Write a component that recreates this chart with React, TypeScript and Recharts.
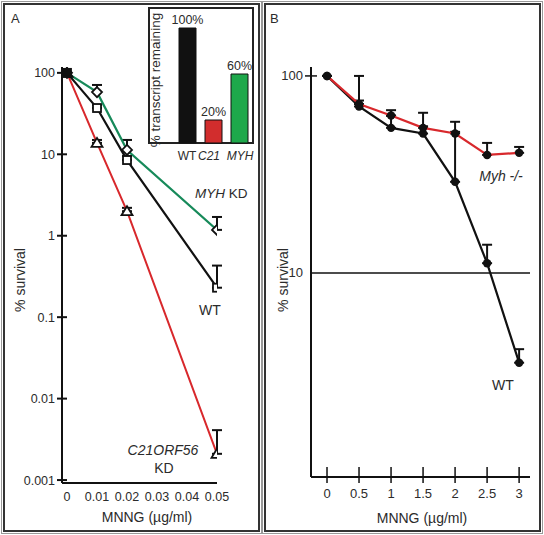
import React from 'react';
import { BarChart, Bar, Cell, LabelList, LineChart, Line, XAxis, YAxis, ErrorBar, ReferenceLine } from 'recharts';

const FONT = '"Liberation Sans", Arial, Helvetica, sans-serif';
const INK = '#2b2b2b';
const RED = '#d8282c';
const GREEN = '#178a5a';

// panel A: survival after knockdown
const doseA = [0, 0.01, 0.02, 0.05];
const wtA = [100, 37, 8.5, 0.23];
const wtTopA = [100, 40, 9.5, 0.43];
const myhA = [100, 58, 11.3, 1.18];
const myhTopA = [100, 71, 15, 1.7];
const c21A = [100, 13.8, 2.0, 0.0021];
const c21TopA = [100, 15, 2.2, 0.0041];
const yTicksA = [0.001, 0.01, 0.1, 1, 10, 100];
const xTicksA = [0, 0.01, 0.02, 0.03, 0.04, 0.05];

// inset: % transcript remaining
const knockdowns = ['WT', 'C21', 'MYH'];
const remaining = [100, 20, 60];
const barColors = ['#111111', '#d22d2d', '#1ea84b'];

// panel B: Myh -/- cells
const doseB = [0, 0.5, 1, 1.5, 2, 2.5, 3];
const wtB = [100, 70, 54.5, 51, 29, 11.2, 3.5];
const wtTopB = [100, 100, 62.7, 65, 58.5, 13.9, 4.1];
const myhB = [100, 72, 63, 54.5, 51, 39.7, 40.7];
const myhTopB = [100, 75, 67, 55.5, 52, 45.7, 43.6];
const yTicksB = [10, 100];
const xTicksB = [0, 0.5, 1, 1.5, 2, 2.5, 3];

const dataA = doseA.map((d, i) => ({
  dose: d,
  wt: wtA[i],
  wtErr: [0, wtTopA[i] - wtA[i]],
  myh: myhA[i],
  myhErr: [0, myhTopA[i] - myhA[i]],
  c21: c21A[i],
  c21Err: [0, c21TopA[i] - c21A[i]],
}));

const dataInset = knockdowns.map((k, i) => ({ name: k, value: remaining[i] }));

const dataB = doseB.map((d, i) => ({
  dose: d,
  wt: wtB[i],
  wtErr: [0, wtTopB[i] - wtB[i]],
  myh: myhB[i],
  myhErr: [0, myhTopB[i] - myhB[i]],
}));

const txt = { fontFamily: FONT, fill: INK } as const;

const SquareDot = (p: any) => {
  const { cx, cy, index } = p;
  if (cx == null || cy == null) return <g key={`sq${index}`} />;
  return (
    <rect key={`sq${index}`} x={cx - 4} y={cy - 4} width={8} height={8}
      fill={index === 0 ? '#111' : '#fff'} stroke="#111" strokeWidth={1.8} />
  );
};

const DiamondDot = (p: any) => {
  const { cx, cy, index } = p;
  if (cx == null || cy == null) return <g key={`di${index}`} />;
  return (
    <polygon key={`di${index}`} points={`${cx},${cy - 5} ${cx + 5},${cy} ${cx},${cy + 5} ${cx - 5},${cy}`}
      fill="#fff" stroke="#111" strokeWidth={1.8} />
  );
};

const TriangleDot = (p: any) => {
  const { cx, cy, index } = p;
  if (cx == null || cy == null) return <g key={`tr${index}`} />;
  return (
    <polygon key={`tr${index}`} points={`${cx},${cy - 5} ${cx + 5.5},${cy + 4} ${cx - 5.5},${cy + 4}`}
      fill="#fff" stroke="#111" strokeWidth={1.8} />
  );
};

const RoundDot = (p: any) => {
  const { cx, cy, index } = p;
  if (cx == null || cy == null) return <g key={`rd${index}`} />;
  return <circle key={`rd${index}`} cx={cx} cy={cy} r={4.2} fill="#111" />;
};

// panel A axis ticks (axis at x=62, y=483 in chart coords)
const YTickA = (p: any) => (
  <g>
    <line x1={57} x2={67} y1={p.y} y2={p.y} stroke="#111" strokeWidth={2} />
    <text x={55} y={p.y + 4.5} textAnchor="end" fontSize={12.5} {...txt}>{String(p.payload.value)}</text>
  </g>
);

const XTickA = (p: any) => (
  <text x={p.x} y={501} textAnchor="middle" fontSize={12.5} {...txt}>{String(p.payload.value)}</text>
);

// panel B axis ticks (axis at x=47, y=477 in chart coords)
const YTickB = (p: any) => (
  <g>
    {p.payload.value === 100 && <line x1={41} x2={53} y1={p.y} y2={p.y} stroke="#111" strokeWidth={1.5} />}
    <text x={39} y={p.y + 4.5} textAnchor="end" fontSize={13} {...txt}>{String(p.payload.value)}</text>
  </g>
);

const XTickB = (p: any) => (
  <g>
    <line x1={p.x} x2={p.x} y1={467} y2={483} stroke="#111" strokeWidth={1.5} />
    <text x={p.x} y={498} textAnchor="middle" fontSize={13} {...txt}>{String(p.payload.value)}</text>
  </g>
);

const InsetTick = (p: any) => (
  <text x={p.x + (p.index === 1 ? -4 : p.index === 2 ? 1 : 0)} y={152.5} textAnchor="middle" fontSize={12}
    fontStyle={p.index === 0 ? 'normal' : 'italic'} {...txt}>
    {p.payload.value}
  </text>
);

const frame = (left: number, width: number): React.CSSProperties => ({
  position: 'absolute',
  left,
  top: 3,
  width,
  height: 529,
  boxSizing: 'border-box',
  border: '2px solid #333',
  boxShadow: '0 0 0 1px #fff, 0 0 0 2px #999',
});

export default function App() {
  return (
    <div style={{ position: 'absolute', left: 0, top: 0, width: 544, height: 535, background: '#fff', overflow: 'hidden' }}>
      <div style={frame(3, 257)} />
      <div style={frame(264, 277)} />

      {/* panel A */}
      <div style={{ position: 'absolute', left: 0, top: 0 }}>
        <LineChart width={262} height={535} data={dataA} margin={{ top: 67, right: 45, bottom: 0, left: 0 }}>
          <XAxis type="number" dataKey="dose" domain={[-0.00167, 0.05]} allowDataOverflow ticks={xTicksA} interval={0}
            height={52} tickLine={false} axisLine={{ stroke: '#111', strokeWidth: 2 }} tick={XTickA} />
          <YAxis type="number" scale="log" domain={[0.00092, 118]} allowDataOverflow ticks={yTicksA} interval={0}
            width={62} tickLine={false} axisLine={{ stroke: '#111', strokeWidth: 2 }} tick={YTickA} />
          <Line dataKey="c21" stroke={RED} strokeWidth={2} dot={TriangleDot} isAnimationActive={false}>
            <ErrorBar dataKey="c21Err" direction="y" width={5} stroke="#111" strokeWidth={2} />
          </Line>
          <Line dataKey="myh" stroke={GREEN} strokeWidth={2.2} dot={DiamondDot} isAnimationActive={false}>
            <ErrorBar dataKey="myhErr" direction="y" width={5} stroke="#111" strokeWidth={2} />
          </Line>
          <Line dataKey="wt" stroke="#111" strokeWidth={2.2} dot={SquareDot} isAnimationActive={false}>
            <ErrorBar dataKey="wtErr" direction="y" width={5} stroke="#111" strokeWidth={2} />
          </Line>
        </LineChart>
      </div>

      {/* inset bar chart */}
      <div style={{ position: 'absolute', left: 148, top: 7, width: 106, height: 137, boxSizing: 'border-box', border: '2px solid #222', background: '#fff' }} />
      <div style={{ position: 'absolute', left: 148, top: 7 }}>
        <BarChart width={106} height={165} data={dataInset} margin={{ top: 21, right: 2, bottom: 0, left: 26 }}>
          <XAxis dataKey="name" height={29} axisLine={false} tickLine={false} tick={InsetTick} interval={0} />
          <YAxis hide domain={[0, 100]} />
          <Bar dataKey="value" barSize={17} isAnimationActive={false}>
            {dataInset.map((d, i) => <Cell key={d.name} fill={barColors[i]} stroke="#111" strokeWidth={1} />)}
            <LabelList dataKey="value" position="top" offset={4} formatter={(v: any) => `${v}%`}
              style={{ fontFamily: FONT, fontSize: 12.5, fill: INK }} />
          </Bar>
        </BarChart>
      </div>

      {/* panel B */}
      <div style={{ position: 'absolute', left: 264, top: 0 }}>
        <LineChart width={280} height={535} data={dataB} margin={{ top: 67, right: 14, bottom: 0, left: 0 }}>
          <XAxis type="number" dataKey="dose" domain={[-0.25, 3.17]} allowDataOverflow ticks={xTicksB} interval={0}
            height={58} tickLine={false} axisLine={{ stroke: '#111', strokeWidth: 2 }} tick={XTickB} />
          <YAxis type="number" scale="log" domain={[0.92, 111]} allowDataOverflow ticks={yTicksB} interval={0}
            width={47} tickLine={false} axisLine={{ stroke: '#111', strokeWidth: 2 }} tick={YTickB} />
          <ReferenceLine y={10} stroke="#111" strokeWidth={1.5} />
          <Line dataKey="wt" stroke="#111" strokeWidth={2.2} dot={RoundDot} isAnimationActive={false}>
            <ErrorBar dataKey="wtErr" direction="y" width={5} stroke="#111" strokeWidth={2} />
          </Line>
          <Line dataKey="myh" stroke={RED} strokeWidth={2.2} dot={RoundDot} isAnimationActive={false}>
            <ErrorBar dataKey="myhErr" direction="y" width={5} stroke="#111" strokeWidth={2} />
          </Line>
        </LineChart>
      </div>

      {/* annotations */}
      <svg width={544} height={535} style={{ position: 'absolute', left: 0, top: 0, pointerEvents: 'none' }}>
        <g fontFamily={FONT} fill={INK}>
          <text x={11} y={23} fontSize={13}>A</text>
          <text x={270} y={23} fontSize={13}>B</text>
          <text transform="translate(155,80) rotate(-90)" textAnchor="middle" dominantBaseline="central" fontSize={13.5}>
            % transcript remaining
          </text>
          <text x={195} y={198} fontSize={13.5}>
            <tspan fontStyle="italic">MYH</tspan> KD
          </text>
          <text x={210} y={315} textAnchor="middle" fontSize={14}>WT</text>
          <text x={163} y={455} textAnchor="middle" fontSize={14} fontStyle="italic">C21ORF56</text>
          <text x={164} y={473} textAnchor="middle" fontSize={14}>KD</text>
          <text transform="translate(20,280) rotate(-90)" textAnchor="middle" dominantBaseline="central" fontSize={14}>
            % survival
          </text>
          <text x={147} y={522} textAnchor="middle" fontSize={14}>MNNG (µg/ml)</text>

          <text x={501} y={181} textAnchor="middle" fontSize={14} fontStyle="italic">Myh -/-</text>
          <text x={503} y={390} textAnchor="middle" fontSize={14}>WT</text>
          <text transform="translate(283,280) rotate(-90)" textAnchor="middle" dominantBaseline="central" fontSize={14}>
            % survival
          </text>
          <text x={422} y={523} textAnchor="middle" fontSize={14}>MNNG (µg/ml)</text>
        </g>
      </svg>
    </div>
  );
}
